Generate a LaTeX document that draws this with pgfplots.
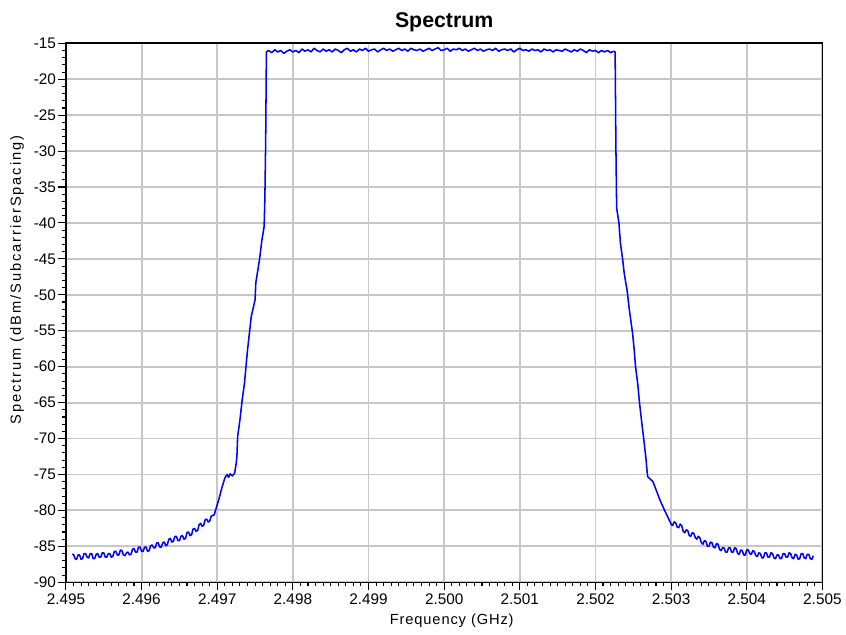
\documentclass[border=0pt]{standalone}
\usepackage{fontspec}
\setmainfont{Liberation Sans}
\usepackage{pgfplots}
\pgfplotsset{compat=1.18}

% x data: offset from 2.500 GHz in MHz
\begin{document}
\begin{tikzpicture}
\begin{axis}[
    at={(0,0)}, anchor=south west,
    scale only axis,
    width=567.75pt, height=404.55pt,
    xmin=-5, xmax=5, ymin=-90, ymax=-15,
    xtick={-5,-4,...,5},
    xticklabels={2.495,2.496,2.497,2.498,2.499,2.500,2.501,2.502,2.503,2.504,2.505},
    ytick={-90,-85,...,-15},
    yticklabels={-90,-85,-80,-75,-70,-65,-60,-55,-50,-45,-40,-35,-30,-25,-20,-15},
    minor x tick num=9,
    minor y tick num=4,
    tick align=outside,
    tick pos=left,
    major tick length=6pt,
    minor tick length=3pt,
    every tick/.style={black, line width=0.8pt},
    grid=major,
    major grid style={black!22, line width=1.4pt},
    axis line style={black, line width=1.2pt},
    tick label style={font=\fontsize{11.5}{13}\selectfont},
    yticklabel style={xshift=2pt},
    xticklabel style={yshift=1pt},
    title={Spectrum},
    title style={font=\fontsize{16}{19}\selectfont\bfseries, at={(axis description cs:0.5,1.025)}, anchor=center},
    xlabel={Frequency (GHz)},
    xlabel style={font=\fontsize{11}{13}\selectfont\addfontfeature{LetterSpace=6}, at={(axis description cs:0.51,-0.071)}, anchor=center},
    ylabel={Spectrum (dBm/SubcarrierSpacing)},
    ylabel style={font=\fontsize{11}{13}\selectfont\addfontfeature{LetterSpace=13}, at={(axis description cs:-0.0647,0.561)}, anchor=center},
]
\addplot[blue, line width=1.15pt, line join=round] coordinates {
(-4.92,-86.1) (-4.90,-86.1) (-4.88,-86.7) (-4.86,-86.8) (-4.84,-86.2) (-4.82,-86.2)
(-4.80,-86.8) (-4.78,-86.7) (-4.76,-86.0) (-4.74,-86.0) (-4.72,-86.5) (-4.70,-86.6)
(-4.68,-86.0) (-4.66,-86.0) (-4.64,-86.7) (-4.62,-86.7) (-4.60,-86.1) (-4.58,-86.0)
(-4.56,-86.5) (-4.54,-86.5) (-4.52,-85.9) (-4.50,-85.9) (-4.48,-86.5) (-4.46,-86.5)
(-4.44,-86.0) (-4.42,-86.0) (-4.40,-86.5) (-4.38,-86.4) (-4.36,-85.7) (-4.34,-85.7)
(-4.32,-86.2) (-4.30,-86.2) (-4.28,-85.5) (-4.26,-85.6) (-4.24,-86.2) (-4.22,-86.3)
(-4.20,-85.9) (-4.18,-85.8) (-4.16,-86.2) (-4.14,-86.1) (-4.12,-85.4) (-4.10,-85.3)
(-4.08,-85.8) (-4.06,-85.8) (-4.04,-85.1) (-4.02,-85.1) (-4.00,-85.7) (-3.98,-85.7)
(-3.96,-85.1) (-3.94,-85.1) (-3.92,-85.7) (-3.90,-85.6) (-3.88,-84.9) (-3.86,-84.8)
(-3.84,-85.2) (-3.82,-85.2) (-3.80,-84.5) (-3.78,-84.5) (-3.76,-85.1) (-3.74,-85.1)
(-3.72,-84.5) (-3.70,-84.4) (-3.68,-84.9) (-3.66,-84.8) (-3.64,-84.0) (-3.62,-83.9)
(-3.60,-84.4) (-3.58,-84.3) (-3.56,-83.6) (-3.54,-83.6) (-3.52,-84.2) (-3.50,-84.2)
(-3.48,-83.6) (-3.46,-83.5) (-3.44,-84.0) (-3.42,-83.9) (-3.40,-83.1) (-3.38,-83.0)
(-3.36,-83.5) (-3.34,-83.4) (-3.32,-82.6) (-3.30,-82.5) (-3.28,-82.9) (-3.26,-82.8)
(-3.24,-82.0) (-3.22,-81.8) (-3.20,-82.2) (-3.18,-82.1) (-3.16,-81.3) (-3.14,-81.2)
(-3.12,-81.6) (-3.10,-81.5) (-3.08,-80.8) (-3.06,-80.7) (-3.04,-80.6)
(-2.98,-78.5) (-2.94,-76.9) (-2.90,-75.5) (-2.87,-75.0) (-2.85,-75.4) (-2.83,-74.9)
(-2.80,-75.2) (-2.77,-74.8) (-2.75,-73.5) (-2.74,-72.5) (-2.73,-69.7) (-2.70,-67.4)
(-2.67,-64.6) (-2.64,-62.3) (-2.62,-60.0) (-2.60,-57.7) (-2.57,-54.9) (-2.55,-53.0)
(-2.50,-50.7) (-2.49,-48.3) (-2.47,-47.0) (-2.44,-45.0) (-2.41,-42.4) (-2.38,-40.5)
(-2.37,-36.3) (-2.36,-28.9) (-2.35,-16.2)
(-2.32,-16.0) (-2.28,-16.3) (-2.24,-15.9) (-2.20,-16.2) (-2.16,-16.0) (-2.12,-16.4)
(-2.08,-16.1) (-2.04,-15.9) (-2.00,-16.2) (-1.96,-16.0) (-1.92,-16.3) (-1.88,-15.8)
(-1.84,-16.1) (-1.80,-15.9) (-1.76,-16.2) (-1.72,-15.7) (-1.68,-16.0) (-1.64,-16.2)
(-1.60,-15.8) (-1.56,-16.1) (-1.52,-15.9) (-1.48,-16.2) (-1.44,-15.8) (-1.40,-16.0)
(-1.36,-16.3) (-1.32,-15.9) (-1.28,-15.7) (-1.24,-16.1) (-1.20,-15.9) (-1.16,-16.2)
(-1.12,-15.8) (-1.08,-16.0) (-1.04,-15.7) (-1.00,-16.1) (-0.96,-15.9) (-0.92,-15.8)
(-0.88,-16.2) (-0.84,-15.9) (-0.80,-15.7) (-0.76,-16.0) (-0.72,-15.8) (-0.68,-16.1)
(-0.64,-15.9) (-0.60,-15.7) (-0.56,-16.0) (-0.52,-15.8) (-0.48,-16.1) (-0.44,-15.7)
(-0.40,-15.9) (-0.36,-16.0) (-0.32,-15.8) (-0.28,-16.1) (-0.24,-15.9) (-0.20,-15.7)
(-0.16,-16.0) (-0.12,-15.8) (-0.08,-15.6) (-0.04,-16.0) (0.00,-15.9) (0.04,-15.7)
(0.08,-16.1) (0.12,-15.8) (0.16,-15.9) (0.20,-15.7) (0.24,-16.0) (0.28,-15.8)
(0.32,-16.1) (0.36,-15.9) (0.40,-15.7) (0.44,-16.0) (0.48,-15.8) (0.52,-16.1)
(0.56,-15.9) (0.60,-15.8) (0.64,-16.0) (0.68,-15.7) (0.72,-16.1) (0.76,-15.9)
(0.80,-15.8) (0.84,-16.0) (0.88,-15.8) (0.92,-16.2) (0.96,-15.9) (1.00,-15.7)
(1.04,-16.0) (1.08,-15.9) (1.12,-16.1) (1.16,-15.8) (1.20,-16.0) (1.24,-15.9)
(1.28,-16.2) (1.32,-15.8) (1.36,-16.0) (1.40,-15.9) (1.44,-16.2) (1.48,-15.9)
(1.52,-16.0) (1.56,-16.1) (1.60,-15.8) (1.64,-16.0) (1.68,-16.2) (1.72,-15.9)
(1.76,-16.1) (1.80,-15.8) (1.84,-16.0) (1.88,-16.3) (1.92,-15.9) (1.96,-16.1)
(2.00,-16.0) (2.04,-16.3) (2.08,-16.0) (2.12,-16.2) (2.16,-16.0) (2.20,-16.3)
(2.24,-16.1)
(2.26,-16.2) (2.27,-29.1) (2.28,-37.9) (2.31,-40.0) (2.33,-42.8) (2.36,-45.1)
(2.38,-47.0) (2.42,-49.5) (2.44,-51.4) (2.46,-53.0) (2.49,-55.3) (2.51,-57.4)
(2.53,-60.0) (2.56,-62.5) (2.58,-64.8) (2.61,-67.6) (2.64,-70.2) (2.67,-73.0)
(2.68,-74.3) (2.69,-75.3) (2.72,-75.6) (2.76,-76.0) (2.80,-77.1) (2.85,-78.5)
(2.91,-79.9) (2.96,-81.0)
(3.00,-81.9) (3.02,-82.1) (3.04,-81.6) (3.06,-81.7) (3.08,-82.3) (3.10,-82.4)
(3.12,-81.9) (3.14,-82.1) (3.16,-82.9) (3.18,-83.1) (3.20,-82.7) (3.22,-82.8)
(3.24,-83.5) (3.26,-83.6) (3.28,-83.1) (3.30,-83.2) (3.32,-83.8) (3.34,-84.0)
(3.36,-83.6) (3.38,-83.8) (3.40,-84.5) (3.42,-84.7) (3.44,-84.2) (3.46,-84.3)
(3.48,-85.0) (3.50,-85.0) (3.52,-84.4) (3.54,-84.5) (3.56,-85.1) (3.58,-85.2)
(3.60,-84.6) (3.62,-84.7) (3.64,-85.4) (3.66,-85.6) (3.68,-85.2) (3.70,-85.2)
(3.72,-85.8) (3.74,-85.8) (3.76,-85.2) (3.78,-85.2) (3.80,-85.8) (3.82,-85.8)
(3.84,-85.2) (3.86,-85.3) (3.88,-86.0) (3.90,-86.1) (3.92,-85.5) (3.94,-85.6)
(3.96,-86.2) (3.98,-86.2) (4.00,-85.5) (4.02,-85.5) (4.04,-86.0) (4.06,-86.1)
(4.08,-85.6) (4.10,-85.7) (4.12,-86.3) (4.14,-86.4) (4.16,-85.9) (4.18,-86.0)
(4.20,-86.6) (4.22,-86.6) (4.24,-85.9) (4.26,-85.9) (4.28,-86.5) (4.30,-86.5)
(4.32,-85.9) (4.34,-86.0) (4.36,-86.6) (4.38,-86.7) (4.40,-86.2) (4.42,-86.2)
(4.44,-86.7) (4.46,-86.7) (4.48,-86.0) (4.50,-86.0) (4.52,-86.5) (4.54,-86.5)
(4.56,-85.9) (4.58,-86.0) (4.60,-86.6) (4.62,-86.7) (4.64,-86.1) (4.66,-86.2)
(4.68,-86.8) (4.70,-86.7) (4.72,-86.0) (4.74,-86.0) (4.76,-86.6) (4.78,-86.7)
(4.80,-86.1) (4.82,-86.1) (4.84,-86.7) (4.86,-86.8) (4.88,-86.3)
};
\end{axis}
\path[use as bounding box] (-49.5pt,-39.2pt) rectangle (585pt,437.05pt);
\end{tikzpicture}
\end{document}
